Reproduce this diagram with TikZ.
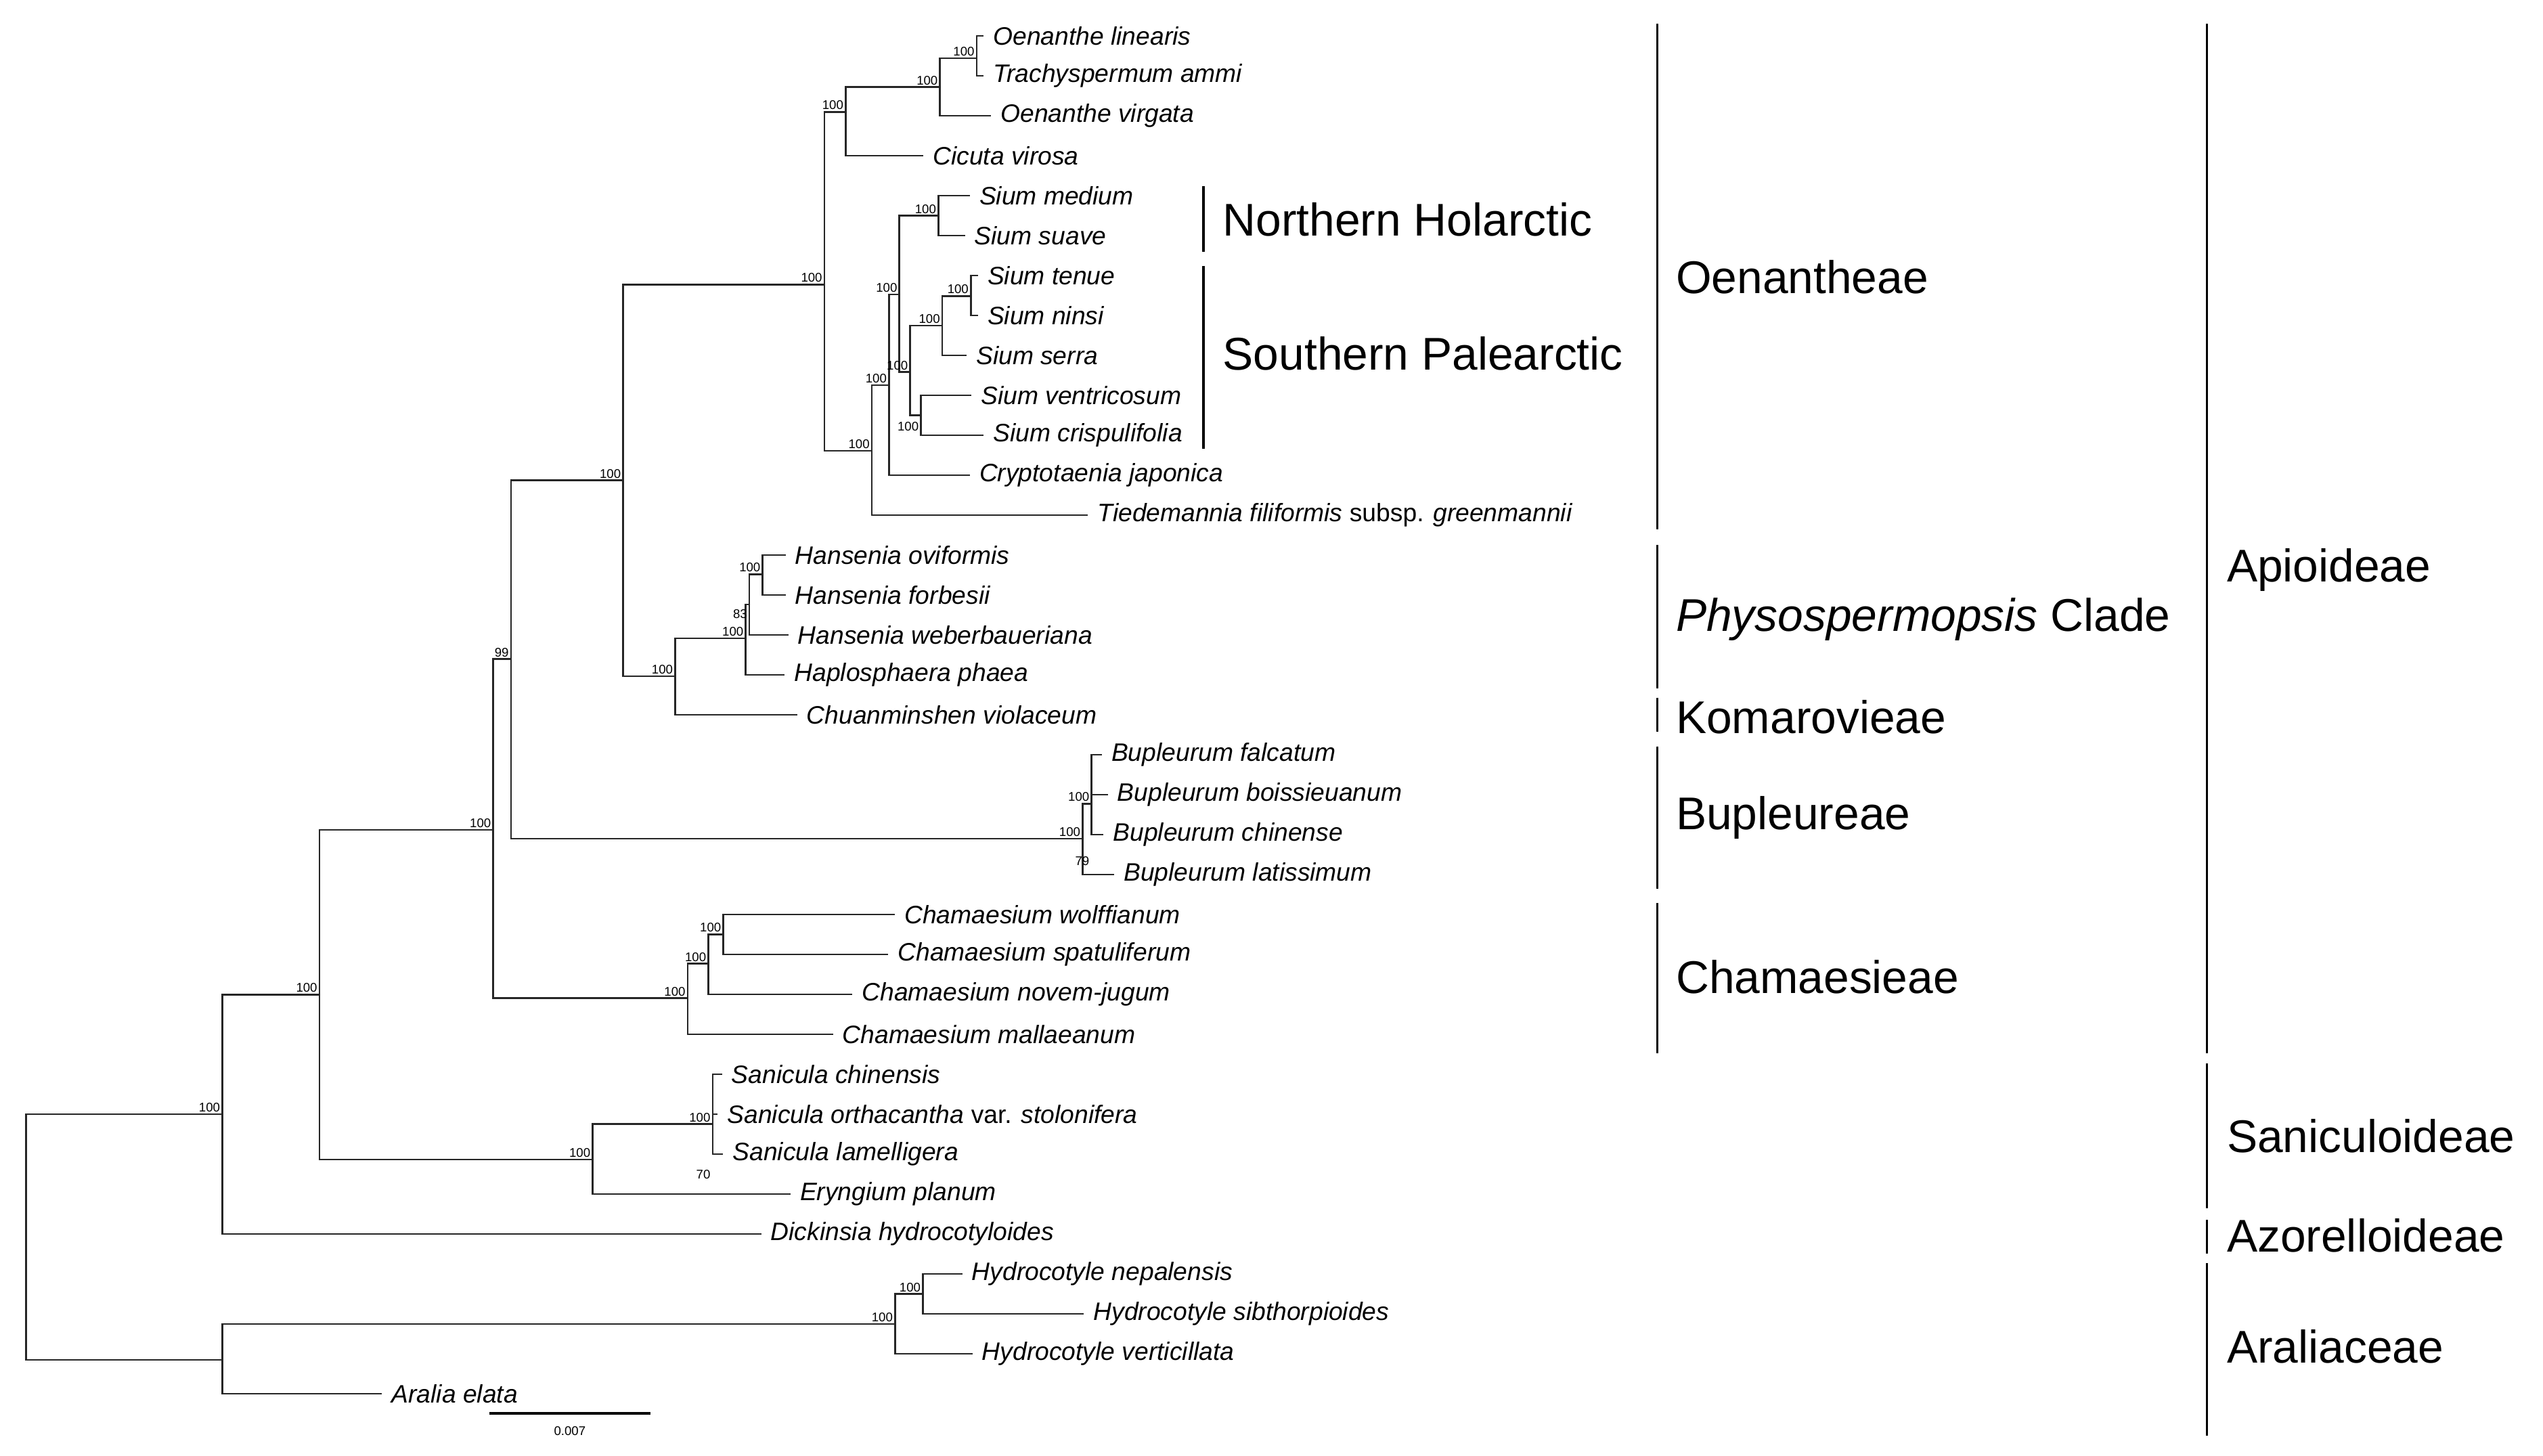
\documentclass[tikz,border=0pt]{standalone}
\usepackage{fontspec}
\setmainfont{Liberation Sans}
\begin{document}
\begin{tikzpicture}[x=0.025cm,y=-0.025cm,
  br/.style={line width=0.75pt,black!85},
  bar/.style={line width=1pt},
  leaf/.style={anchor=west,inner sep=0pt,xshift=4pt,font=\fontsize{11}{12}\selectfont\itshape},
  bs/.style={anchor=south east,inner sep=0.8pt,font=\fontsize{5.5}{6}\selectfont},
  bsl/.style={anchor=east,inner sep=0.8pt,font=\fontsize{5.5}{6}\selectfont},
  grp/.style={anchor=west,inner sep=0pt,font=\fontsize{20}{22}\selectfont}]
\useasboundingbox (0,0) rectangle (1560.2,892.9);
% leaves (branch end points)
\foreach \n/\x/\y in {0/603.5/22,1/603.5/46.5,2/608/71,3/566.5/95.5,4/595/120,5/592/144.5,6/600/169,7/600/193.5,8/593/218,9/596/242.5,10/603.5/267,11/595/291.5,12/667.5/316,13/482/340.5,14/482/365,15/483.7/389.5,16/481.4/414,17/489/438.5,18/676/463,19/679.7/487.5,20/677/512,21/683.6/536.5,22/549/561,23/545/585.5,24/523/610,25/511/634.5,26/443/659,27/440.3/683.5,28/443.7/708,29/485/732.5,30/467/757,31/590.4/781.5,32/665/806,33/596.6/830.5,34/234.4/855}
  {\coordinate (e\n) at (\x,\y);}
\node[leaf] (l0) at (e0) {Oenanthe linearis};
\node[leaf] (l1) at (e1) {Trachyspermum ammi};
\node[leaf] (l2) at (e2) {Oenanthe virgata};
\node[leaf] (l3) at (e3) {Cicuta virosa};
\node[leaf] (l4) at (e4) {Sium medium};
\node[leaf] (l5) at (e5) {Sium suave};
\node[leaf] (l6) at (e6) {Sium tenue};
\node[leaf] (l7) at (e7) {Sium ninsi};
\node[leaf] (l8) at (e8) {Sium serra};
\node[leaf] (l9) at (e9) {Sium ventricosum};
\node[leaf] (l10) at (e10) {Sium crispulifolia};
\node[leaf] (l11) at (e11) {Cryptotaenia japonica};
\node[leaf] (l12) at (e12) {Tiedemannia filiformis \textup{subsp.} greenmannii};
\node[leaf] (l13) at (e13) {Hansenia oviformis};
\node[leaf] (l14) at (e14) {Hansenia forbesii};
\node[leaf] (l15) at (e15) {Hansenia weberbaueriana};
\node[leaf] (l16) at (e16) {Haplosphaera phaea};
\node[leaf] (l17) at (e17) {Chuanminshen violaceum};
\node[leaf] (l18) at (e18) {Bupleurum falcatum};
\node[leaf] (l19) at (e19) {Bupleurum boissieuanum};
\node[leaf] (l20) at (e20) {Bupleurum chinense};
\node[leaf] (l21) at (e21) {Bupleurum latissimum};
\node[leaf] (l22) at (e22) {Chamaesium wolffianum};
\node[leaf] (l23) at (e23) {Chamaesium spatuliferum};
\node[leaf] (l24) at (e24) {Chamaesium novem-jugum};
\node[leaf] (l25) at (e25) {Chamaesium mallaeanum};
\node[leaf] (l26) at (e26) {Sanicula chinensis};
\node[leaf] (l27) at (e27) {Sanicula orthacantha \textup{var.} stolonifera};
\node[leaf] (l28) at (e28) {Sanicula lamelligera};
\node[leaf] (l29) at (e29) {Eryngium planum};
\node[leaf] (l30) at (e30) {Dickinsia hydrocotyloides};
\node[leaf] (l31) at (e31) {Hydrocotyle nepalensis};
\node[leaf] (l32) at (e32) {Hydrocotyle sibthorpioides};
\node[leaf] (l33) at (e33) {Hydrocotyle verticillata};
\node[leaf] (l34) at (e34) {Aralia elata};
% internal nodes
\coordinate (root) at (15.9,759);
\coordinate (nA) at (136.4,683.6);
\coordinate (nB) at (196,610.2);
\coordinate (nApi) at (302.6,509.2);
\coordinate (nU) at (313.5,404.3);
\coordinate (nOP) at (382.3,294.7);
\coordinate (nOen) at (505.8,174.6);
\coordinate (nO1) at (518.8,68.7);
\coordinate (nO3) at (576.7,53.4);
\coordinate (nO4) at (599.2,35.8);
\coordinate (nO2) at (534.9,276.6);
\coordinate (nS0) at (545.4,236.3);
\coordinate (nS1) at (551.8,180.7);
\coordinate (nS2) at (575.7,132.3);
\coordinate (nS3) at (558.4,228.3);
\coordinate (nS4) at (578.1,199.8);
\coordinate (nS6) at (595.6,181.6);
\coordinate (nS5) at (565,254.8);
\coordinate (nK) at (414.2,414.8);
\coordinate (nH0) at (457.5,391.6);
\coordinate (nH1) at (459.8,370.9);
\coordinate (nH2) at (467.9,352.3);
\coordinate (nBup) at (664.2,514.5);
\coordinate (nB1) at (669.7,493.1);
\coordinate (nCham) at (421.9,612.4);
\coordinate (nC1) at (434.6,591.2);
\coordinate (nC2) at (443.8,573.3);
\coordinate (nSE) at (363.6,711.4);
\coordinate (nSa) at (437.2,689.6);
\coordinate (nAr) at (136.4,834.2);
\coordinate (nHy) at (549.1,812.2);
\coordinate (nHy2) at (566.2,793.9);
% branches
\foreach \p/\c in {root/nA,root/nAr,nA/nB,nA/e30,nB/nApi,nB/nSE,nApi/nU,nApi/nCham,
  nU/nOP,nU/nBup,nOP/nOen,nOP/nK,nOen/nO1,nOen/nO2,nO1/nO3,nO1/e3,nO3/nO4,nO3/e2,
  nO4/e0,nO4/e1,nO2/nS0,nO2/e12,nS0/nS1,nS0/e11,nS1/nS2,nS1/nS3,nS2/e4,nS2/e5,
  nS3/nS4,nS3/nS5,nS4/nS6,nS4/e8,nS6/e6,nS6/e7,nS5/e9,nS5/e10,
  nK/nH0,nK/e17,nH0/nH1,nH0/e16,nH1/nH2,nH1/e15,nH2/e13,nH2/e14,
  nBup/nB1,nBup/e21,nB1/e18,nB1/e19,nB1/e20,
  nCham/nC1,nCham/e25,nC1/nC2,nC1/e24,nC2/e22,nC2/e23,
  nSE/nSa,nSE/e29,nSa/e26,nSa/e27,nSa/e28,
  nAr/nHy,nAr/e34,nHy/nHy2,nHy/e33,nHy2/e31,nHy2/e32}
  {\draw[br] (\p) |- (\c);}
% bootstrap
\foreach \n in {nA,nB,nApi,nOP,nOen,nO1,nO3,nO4,nO2,nS0,nS1,nS2,nS3,nS4,nS6,nK,nH0,nH2,nBup,nB1,nCham,nC1,nC2,nSE,nSa,nHy,nHy2}
  {\node[bs] (b\n) at (\n) {100};}
\node[bs] (bnU) at (nU) {99};
\node[bsl] (bnS5) at ([yshift=-5]nS5) {100};
\node[bsl] (bnH1) at ([yshift=-4]nH1) {83};
\node[bsl] (b79) at ([yshift=-25]nB1) {79};
\node[bsl] (b70) at ([yshift=-22]nSa) {70};
% scale bar
\coordinate (sb1) at (300.1,867);
\coordinate (sb2) at (399.1,867);
\draw[line width=1.1pt] (sb1) -- (sb2);
\node[font=\fontsize{5.5}{6}\selectfont] (sbl) at (349.6,878) {0.007};
% group bars
\draw[bar] (738.4,114.2) -- (738.4,154.4);
\node[grp] (gNH) at (750,134.6) {Northern Holarctic};
\draw[bar] (738.4,163.2) -- (738.4,275.3);
\node[grp] (gSP) at (750,217) {Southern Palearctic};
\draw[bar] (1016.8,14.6) -- (1016.8,324.9);
\node[grp] (gOe) at (1028,170) {Oenantheae};
\draw[bar] (1016.8,334.5) -- (1016.8,422.5);
\node[grp] (gPh) at (1028,380) {\textit{Physospermopsis} Clade};
\draw[bar] (1016.8,428) -- (1016.8,449);
\node[grp] (gKo) at (1028,440) {Komarovieae};
\draw[bar] (1016.8,457.9) -- (1016.8,545.3);
\node[grp] (gBu) at (1028,501.7) {Bupleureae};
\draw[bar] (1016.8,554.1) -- (1016.8,646);
\node[grp] (gCh) at (1028,599.2) {Chamaesieae};
\draw[bar] (1354,14.6) -- (1354,646);
\node[grp] (gAp) at (1366,349.7) {Apioideae};
\draw[bar] (1354,652.3) -- (1354,741.4);
\node[grp] (gSa) at (1366,696.9) {Saniculoideae};
\draw[bar] (1354,748.5) -- (1354,769);
\node[grp] (gAz) at (1366,758) {Azorelloideae};
\draw[bar] (1354,774.9) -- (1354,880.6);
\node[grp] (gAr) at (1366,826) {Araliaceae};
\end{tikzpicture}
\end{document}
